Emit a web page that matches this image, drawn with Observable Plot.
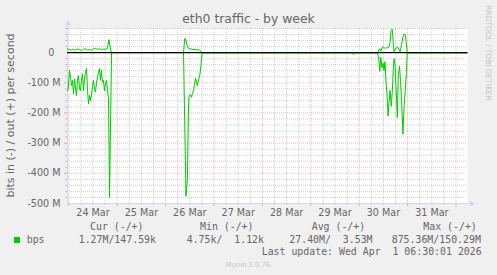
<!DOCTYPE html>
<html><head><meta charset="utf-8">
<script src="https://cdn.jsdelivr.net/npm/d3@7"></script>
<script src="https://cdn.jsdelivr.net/npm/@observablehq/plot@0.6"></script>
<style>
html,body{margin:0;padding:0;background:#f0f0f0;}
#chart{position:relative;width:497px;height:275px;}
svg text{white-space:pre;}
</style></head><body><div id="chart"></div>
<script>
// ---- text ----
const title = "eth0 traffic - by week";
const yAxisTitle = "bits in (-) / out (+) per second";
const watermark = "RRDTOOL / TOBI OETIKER";
const seriesName = "bps";
const legendHeaders = ["Cur (-/+)", "Min (-/+)", "Avg (-/+)", "Max (-/+)"];
const legendValues = ["1.27M/147.59k", "4.75k/  1.12k", "27.40M/  3.53M", "875.36M/150.29M"];
const lastUpdate = "Last update: Wed Apr  1 06:30:01 2026";
const version = "Munin 2.0.76";

// ---- axes (hours since 24 Mar 00:00; values in Mbit/s) ----
const dayLabels = ["24 Mar", "25 Mar", "26 Mar", "27 Mar", "28 Mar", "29 Mar", "30 Mar", "31 Mar"];
const dayLabelHours = [12, 36, 60, 84, 108, 132, 156, 180];
const yTickValues = [0, -100, -200, -300, -400, -500];
const yTickLabels = ["0\u00a0\u00a0", "-100 M", "-200 M", "-300 M", "-400 M", "-500 M"];
const xDomain = [-0.64, 197.7];
const yDomain = [-500, 80];

// ---- series: in (plotted negative) ----
const inHours = [-0.6,-0.3,0.35,0.85,1.35,1.85,2.35,2.85,3.3,3.8,4.3,4.8,5.3,5.8,6.3,6.8,7.3,7.8,8.3,8.8,9.3,9.8,10.3,10.8,11.3,11.75,12.25,12.75,13.25,13.75,14.25,14.75,15.2,15.7,16.2,16.7,17.2,17.7,18.2,18.7,19.2,19.7,20.2,21.2,
  56.9,58.1,58.8,59.3,59.6,60.35,60.85,61.35,61.85,62.35,62.85,63.35,63.8,64.3,64.8,65.3,66.1,
  140.2,141.2,142.2,
  153.1,153.7,154.2,154.7,155.3,155.8,156.3,156.8,157.3,157.9,158.3,158.8,159.3,159.6,159.9,160.4,160.9,161.3,161.8,162.3,162.9,163.4,164.0,164.5,165.0,165.7,166.2,166.8,167.4,167.8,197.7];
const inMbps = [-126,-120,-59,-81,-109,-92,-137,-87,-117,-142,-92,-76,-117,-126,-92,-70,-126,-87,-65,-53,-126,-170,-142,-159,-137,-112,-92,-120,-131,-98,-81,-65,-53,-92,-59,-98,-92,-126,-103,-92,-126,-153,-481,0,
  0,-476,-420,-200,-145,-140,-148,-135,-125,-105,-85,-100,-110,-90,-80,-60,-1.3,
  -1.3,-6,-1.3,
  -1.3,-20,-62,-15,-50,-35,-60,-30,-95,-150,-210,-165,-125,-150,-178,-130,-55,-20,-45,-120,-215,-75,-45,-95,-160,-270,-186,-130,-65,-1.3,-1.3];

// ---- series: out (plotted positive) ----
const outHours = [-0.6,0.35,1.35,2.35,3.3,4.3,5.3,6.3,7.3,8.3,9.3,10.3,11.3,12.25,13.25,14.25,15.2,16.2,17.2,18.2,19.2,19.9,20.5,21.1,
  56.9,57.5,58.1,58.6,59.4,60.4,62.8,64.8,66.1,
  140.2,
  153.1,153.7,154.2,154.8,155.3,155.9,156.5,157.2,157.7,158.2,158.7,159.3,159.8,160.4,160.8,161.2,162.0,162.9,163.7,164.3,165.0,165.7,166.3,166.9,167.2,167.8,197.7];
const outMbps = [12,10,9,11,8,12,10,7,11,13,9,10,8,12,14,11,13,10,12,11,14,43,20,0,
  0,47,42,25,14,12,10,9,0.15,
  0.15,
  0.15,8,13,5,15,19,16,14,17,16,19,33,74,78,40,3,12,19,12,3,27,52,62,58,40,0.15,0.15];

// ---- styles ----
const FONT = "#666666", AXIS = "#CFD6F8", GREEN = "#00CC00";
const GRID = "#8f8f8f", MGRID = "#ff5f5f";

const inData = inHours.map((h, i) => ({h, v: inMbps[i]}));
const outData = outHours.map((h, i) => ({h, v: outMbps[i]}));
const minorX = d3.range(0, 198, 6).filter(h => h % 24 !== 0);
const majorX = d3.range(0, 198, 24);
const minorY = d3.range(-480, 81, 20).filter(v => v % 100 !== 0);
const majorY = [-400, -300, -200, -100];
const yLabelMap = new Map(yTickValues.map((v, i) => [v, yTickLabels[i]]));
const xLabelMap = new Map(dayLabelHours.map((h, i) => [h, dayLabels[i]]));

const chart = Plot.plot({
  width: 497, height: 275,
  marginLeft: 67, marginRight: 30, marginTop: 28, marginBottom: 72,
  style: {fontFamily: "DejaVu Sans", fontSize: "9.6px", color: FONT, background: "#f0f0f0", overflow: "visible"},
  x: {type: "linear", domain: xDomain, axis: null},
  y: {type: "linear", domain: yDomain, axis: null},
  marks: [
    Plot.frame({fill: "white", stroke: null}),
    Plot.ruleX(minorX, {stroke: GRID, strokeOpacity: 0.42, strokeDasharray: "1,1"}),
    Plot.ruleY(minorY, {stroke: GRID, strokeOpacity: 0.42, strokeDasharray: "1,1"}),
    Plot.ruleX(majorX, {stroke: MGRID, strokeOpacity: 0.45, strokeDasharray: "1,1"}),
    Plot.ruleY(majorY, {stroke: MGRID, strokeOpacity: 0.45, strokeDasharray: "1,1"}),
    // small ticks below / left of axes
    Plot.ruleX(minorX, {y1: yDomain[0], y2: yDomain[0] - 6, stroke: GRID, strokeOpacity: 0.5}),
    Plot.ruleX(majorX, {y1: yDomain[0], y2: yDomain[0] - 10, stroke: MGRID, strokeOpacity: 0.55}),
    Plot.ruleY(minorY, {x1: xDomain[0] - 1, x2: xDomain[0], stroke: GRID, strokeOpacity: 0.5}),
    Plot.ruleY(majorY, {x1: xDomain[0] - 1.5, x2: xDomain[0], stroke: MGRID, strokeOpacity: 0.55}),
    // axis lines + arrows
    Plot.ruleY([yDomain[0]], {x1: xDomain[0], x2: xDomain[1] + 1, stroke: AXIS}),
    Plot.ruleX([xDomain[0]], {y1: yDomain[0], y2: yDomain[1] + 10, stroke: AXIS}),
    Plot.dot([0], {x: () => xDomain[1], y: () => yDomain[0], symbol: "triangle", r: 2.2, rotate: 90, fill: AXIS, stroke: null, dx: 4}),
    Plot.dot([0], {x: () => xDomain[0], y: () => yDomain[1], symbol: "triangle", r: 2.2, fill: AXIS, stroke: null, dy: -5, dx: 0.5}),
    // series
    Plot.line(inData, {x: "h", y: "v", stroke: GREEN, strokeWidth: 1}),
    Plot.line(outData, {x: "h", y: "v", stroke: GREEN, strokeWidth: 1}),
    Plot.ruleY([0], {stroke: "black", strokeWidth: 1.4}),
    // tick labels
    Plot.text(yTickValues, {y: d => d, frameAnchor: "left", dx: -7, textAnchor: "end", lineAnchor: "middle", text: d => yLabelMap.get(d), fill: FONT, fontSize: 9.6}),
    Plot.text(dayLabelHours, {x: d => d, frameAnchor: "bottom", dy: 12.5, lineAnchor: "bottom", text: d => xLabelMap.get(d), fill: FONT, fontSize: 9.6})
  ]
});
document.getElementById("chart").appendChild(chart);

const svg = d3.select(chart);
const addText = (x, y, t, opts = {}) => svg.append("text")
  .attr("x", x).attr("y", y)
  .attr("text-anchor", opts.anchor || "start")
  .attr("font-family", opts.family || "DejaVu Sans Mono")
  .attr("font-size", opts.size || 9.9)
  .attr("fill", opts.fill || FONT)
  .attr("transform", opts.transform || null)
  .text(t);

addText(248.5, 23, title, {anchor: "middle", family: "DejaVu Sans", size: 12.4});
addText(0, 0, yAxisTitle, {anchor: "middle", family: "DejaVu Sans", size: 11, transform: "translate(13.5,115.5) rotate(-90)"});
addText(0, 0, watermark, {anchor: "middle", family: "DejaVu Sans", size: 7.4, fill: "#c4c4c4", transform: "translate(485.5,53) rotate(90)"});

// legend
const headerX = [90, 200, 311.7, 423.3];
const valueX = [78.7, 186.7, 289.3, 391.7];
legendHeaders.forEach((t, i) => addText(headerX[i], 229.5, t));
svg.append("rect").attr("x", 14).attr("y", 237).attr("width", 6).attr("height", 6).attr("fill", GREEN);
addText(26.7, 242.5, seriesName);
legendValues.forEach((t, i) => addText(valueX[i], 242.5, t));
addText(261.7, 255.3, lastUpdate);
addText(248, 266.5, version, {anchor: "middle", family: "DejaVu Sans", size: 6.8, fill: "#c8c8c8"});
</script>
</body></html>
